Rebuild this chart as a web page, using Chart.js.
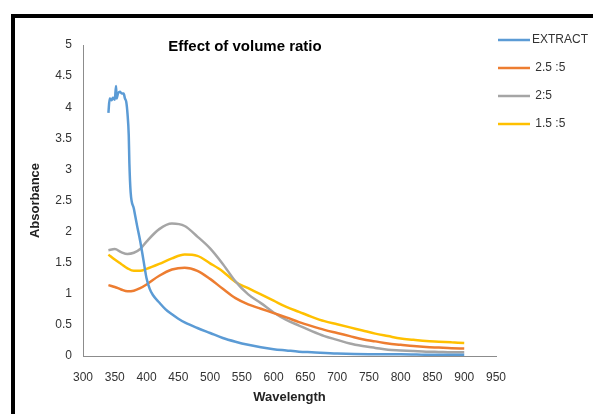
<!DOCTYPE html>
<html>
<head>
<meta charset="utf-8">
<script src="https://cdn.jsdelivr.net/npm/chart.js@4/dist/chart.umd.min.js"></script>
<style>
  html, body { margin: 0; padding: 0; background: #fff; }
  #wrap { position: relative; width: 593px; height: 414px; overflow: hidden; }
  #frame { position: absolute; left: 11px; top: 14px; width: 700px; height: 500px;
           border-left: 4px solid #000; border-top: 4px solid #000; pointer-events: none; }
  canvas { position: absolute; left: 0; top: 0; }
</style>
</head>
<body>
<div id="wrap">
  <canvas id="c" width="593" height="414"></canvas>
  <div id="frame"></div>
</div>
<script>
// ---- data ----
const chartTitle = "Effect of volume ratio";
const xTitle = "Wavelength";
const yTitle = "Absorbance";
const seriesNames = ["EXTRACT", " 2.5 :5", " 2:5", " 1.5 :5"];
const seriesColors = ["#5B9BD5", "#ED7D31", "#A5A5A5", "#FFC000"];

const wlExtract = [340,342,345,347,350,352,353,355,358,361,364,366,368,370,372,373,375,380,385,390,395,400,405,410,420,430,440,450,460,480,500,520,540,560,580,600,620,640,660,700,750,800,850,900];
const extract = [3.91,4.14,4.11,4.15,4.12,4.34,4.14,4.22,4.25,4.22,4.22,4.14,4.09,3.90,3.55,3.10,2.63,2.37,2.10,1.85,1.55,1.25,1.08,0.98,0.86,0.75,0.67,0.60,0.54,0.45,0.37,0.29,0.23,0.18,0.14,0.11,0.09,0.07,0.06,0.04,0.03,0.03,0.02,0.02];

const wl = [340,350,360,370,380,390,400,420,440,460,480,500,520,540,560,580,600,620,640,660,680,700,720,740,760,780,800,820,840,860,880,900];
const ratio25 = [1.14,1.11,1.07,1.04,1.05,1.09,1.15,1.29,1.39,1.42,1.37,1.24,1.08,0.93,0.83,0.76,0.69,0.62,0.545,0.48,0.42,0.37,0.32,0.27,0.235,0.20,0.18,0.16,0.145,0.135,0.125,0.12];
const ratio2 = [1.70,1.72,1.67,1.64,1.66,1.72,1.84,2.04,2.13,2.09,1.92,1.73,1.48,1.20,0.99,0.85,0.70,0.58,0.49,0.40,0.32,0.26,0.20,0.16,0.13,0.10,0.09,0.08,0.07,0.065,0.06,0.06];
const ratio15 = [1.63,1.55,1.48,1.41,1.37,1.37,1.40,1.48,1.57,1.63,1.61,1.49,1.36,1.19,1.09,0.99,0.89,0.79,0.71,0.63,0.56,0.51,0.46,0.41,0.36,0.32,0.28,0.26,0.24,0.23,0.22,0.21];

const xMin = 300, xMax = 950, xStep = 50;
const yMin = 0, yMax = 5, yStep = 0.5;

function pts(xs, ys) { return xs.map((x, i) => ({x: x, y: ys[i]})); }

const seriesData = [pts(wlExtract, extract), pts(wl, ratio25), pts(wl, ratio2), pts(wl, ratio15)];

const textColor = "#333";

const overlayPlugin = {
  id: 'overlay',
  afterDraw(chart) {
    const ctx = chart.ctx;
    ctx.save();
    // title
    ctx.fillStyle = "#000";
    ctx.font = "bold 15px 'Liberation Sans', Arial, sans-serif";
    ctx.textAlign = "center";
    ctx.textBaseline = "middle";
    ctx.fillText(chartTitle, 245, 47);
    // legend
    const ys = [40, 68, 96, 124];
    chart.data.datasets.forEach((ds, i) => {
      ctx.strokeStyle = ds.borderColor;
      ctx.lineWidth = 2.5;
      ctx.beginPath();
      ctx.moveTo(498, ys[i]);
      ctx.lineTo(530, ys[i]);
      ctx.stroke();
      ctx.fillStyle = textColor;
      ctx.font = "12px 'Liberation Sans', Arial, sans-serif";
      ctx.textAlign = "left";
      ctx.fillText(ds.label, 532, ys[i]);
    });
    ctx.restore();
  }
};

new Chart(document.getElementById('c'), {
  type: 'line',
  data: {
    datasets: seriesData.map((d, i) => ({
      label: seriesNames[i],
      data: d,
      borderColor: seriesColors[i],
      backgroundColor: seriesColors[i],
      borderWidth: 2.5,
      pointRadius: 0,
      fill: false,
      cubicInterpolationMode: 'monotone'
    }))
  },
  options: {
    responsive: false,
    animation: false,
    layout: { padding: { left: 28, right: 97, top: 45, bottom: 5 } },
    plugins: {
      legend: { display: false },
      title: { display: false },
      tooltip: { enabled: false }
    },
    scales: {
      x: {
        type: 'linear',
        min: xMin, max: xMax,
        afterFit(s) { s.height = 53; },
        ticks: { stepSize: xStep, color: textColor, padding: 14, maxRotation: 0,
                 font: { family: "'Liberation Sans', Arial, sans-serif", size: 12 } },
        grid: { drawOnChartArea: false, drawTicks: false, color: 'transparent' },
        border: { display: true, color: '#8c8c8c', width: 1 },
        title: { display: true, text: xTitle, color: '#222',
                 font: { family: "'Liberation Sans', Arial, sans-serif", size: 13, weight: 'bold' },
                 padding: { top: 4, bottom: 4 } }
      },
      y: {
        type: 'linear',
        min: yMin, max: yMax,
        afterFit(s) { s.width = 55; },
        ticks: { stepSize: yStep, color: textColor, padding: 11,
                 callback: (v) => String(Math.round(v * 10) / 10),
                 font: { family: "'Liberation Sans', Arial, sans-serif", size: 12 } },
        grid: { drawOnChartArea: false, drawTicks: false, color: 'transparent' },
        border: { display: true, color: '#8c8c8c', width: 1 },
        title: { display: true, text: yTitle, color: '#222',
                 font: { family: "'Liberation Sans', Arial, sans-serif", size: 13, weight: 'bold' },
                 padding: { top: 0, bottom: 0 } }
      }
    }
  },
  plugins: [overlayPlugin]
});
</script>
</body>
</html>
